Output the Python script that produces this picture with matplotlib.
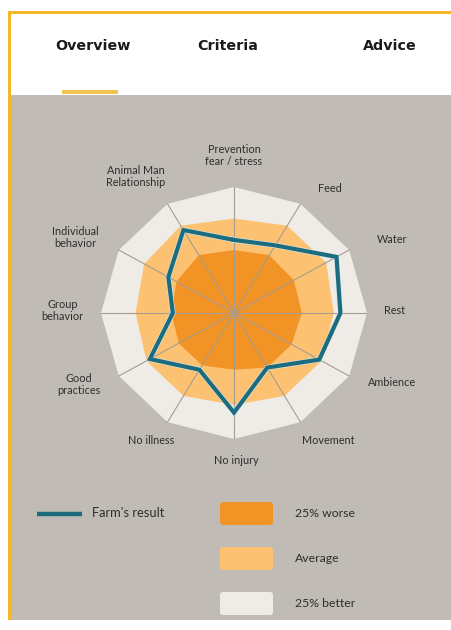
import matplotlib.pyplot as plt
import numpy as np
from matplotlib.patches import Rectangle, FancyBboxPatch
import matplotlib.patheffects as pe

# Data
# ----------------------------------------------------------------------------

categories = [
    'Prevention\nfear / stress', 'Feed', 'Water', 'Rest', 'Ambience',
    'Movement', 'No injury', 'No illness', 'Good\npractices',
    'Group\nbehavior', 'Individual\nbehavior', 'Animal Man\nRelationship'
]

farm = [0.58, 0.62, 0.89, 0.80, 0.74, 0.50, 0.79, 0.52, 0.73, 0.46, 0.57, 0.76]
worse = [0.50, 0.53, 0.52, 0.51, 0.50, 0.50, 0.45, 0.48, 0.48, 0.47, 0.50, 0.53]
average = [0.75, 0.80, 0.80, 0.75, 0.76, 0.76, 0.73, 0.76, 0.76, 0.74, 0.78, 0.80]
better = [1.0] * 12

tabs = ['Overview', 'Criteria', 'Advice']
band_names = ['25% worse', 'Average', '25% better']
farm_name = "Farm's result"

# Colors
c_bg = '#C0BBB5'
c_better = '#EFECE7'
c_avg = '#FCC271'
c_worse = '#F29326'
c_farm = '#1D6C7E'
c_yellow = '#F5B72A'
c_text = '#2E2E2E'

plt.rcParams['font.family'] = ['Lato', 'DejaVu Sans']

# Figure and background
# ----------------------------------------------------------------------------

W, H = 451, 630
fig = plt.figure(figsize=(W / 100, H / 100), dpi=100)

bg = fig.add_axes([0, 0, 1, 1])
bg.set_xlim(0, W)
bg.set_ylim(H, 0)
bg.axis('off')

bg.add_patch(Rectangle((9, 95), W - 9, 525, color=c_bg, lw=0))
bg.add_patch(Rectangle((9, 12), W - 9, 83, color='white', lw=0))
bg.add_patch(Rectangle((8, 11), W - 8, 2.5, color=c_yellow, lw=0))
bg.add_patch(Rectangle((8, 11), 2.5, 609, color=c_yellow, lw=0))
bg.add_patch(Rectangle((62, 90), 56, 3.5, color='#F2C44F', lw=0))

for label, x in zip(tabs, [93, 228, 390]):
    bg.text(x, 46, label, ha='center', va='center', fontsize=10.3,
            fontweight='bold', family='DejaVu Sans', color='#1a1a1a')

# Legend
bg.plot([37, 82], [514, 514], color=c_farm, lw=3.2, solid_capstyle='butt')
bg.text(92, 513, farm_name, ha='left', va='center', fontsize=9.3, color=c_text)
for name, color, yc in zip(band_names, [c_worse, c_avg, c_better], [513.5, 558.5, 603.5]):
    bg.add_patch(FancyBboxPatch((222, yc - 9.5), 49, 19,
                                boxstyle='round,pad=2,rounding_size=3',
                                color=color, lw=0))
    bg.text(295, yc, name, ha='left', va='center', fontsize=8.8, color=c_text)

# Radar
# ----------------------------------------------------------------------------

cx, cy, rx, ry = 234, 313, 133, 126
ax = fig.add_axes([(cx - rx) / W, (H - cy - ry) / H, 2 * rx / W, 2 * ry / H])
ax.set_xlim(-1, 1)
ax.set_ylim(-1, 1)
ax.axis('off')

n = len(categories)
ang = np.deg2rad(90 - 30 * np.arange(n))


def closed(r):
    r = np.asarray(r)
    x = r * np.cos(ang)
    y = r * np.sin(ang)
    return np.append(x, x[0]), np.append(y, y[0])


ax.fill(*closed(better), color=c_better, lw=0, zorder=1)
ax.fill(*closed(average), color=c_avg, lw=0, zorder=2)
ax.fill(*closed(worse), color=c_worse, lw=0, zorder=3)

for a in ang:
    ax.plot([0, np.cos(a)], [0, np.sin(a)], color='#A69C90', lw=0.8, zorder=4)

ax.plot(*closed(farm), color=c_farm, lw=3, zorder=5, solid_joinstyle='miter',
        path_effects=[pe.Stroke(linewidth=3.8, foreground='#D8E8EA'), pe.Normal()])

label_pos = [
    (0.0, 1.25), (0.72, 0.99), (1.19, 0.58), (1.21, 0.02), (1.19, -0.55),
    (0.71, -1.01), (0.02, -1.17), (-0.62, -1.01), (-1.17, -0.57),
    (-1.29, 0.02), (-1.19, 0.60), (-0.74, 1.08)
]
for label, (x, y) in zip(categories, label_pos):
    ax.text(x, y, label, ha='center', va='center', fontsize=7.8,
            color=c_text, linespacing=1.1, clip_on=False)

fig.savefig('out.png', dpi=100)
